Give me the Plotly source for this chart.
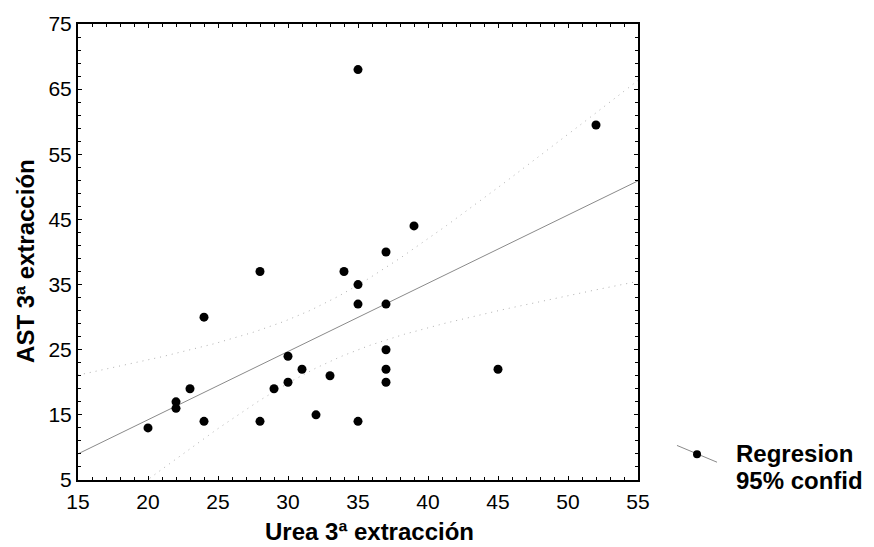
import numpy as np
import plotly.graph_objects as go

# Urea vs AST, third extraction
urea = [20, 22, 22, 23, 24, 24, 28, 28, 29, 30, 30, 31, 33, 32, 35, 34, 35, 35,
        37, 37, 37, 37, 45, 35, 52, 39, 37]
ast = [13, 17, 16, 19, 30, 14, 37, 14, 19, 24, 20, 22, 21, 15, 14, 37, 35, 32,
       32, 25, 22, 20, 22, 68, 59.5, 44, 40]

x_ticks = [15, 20, 25, 30, 35, 40, 45, 50, 55]
y_ticks = [5, 15, 25, 35, 45, 55, 65, 75]

x = np.asarray(urea, dtype=float)
y = np.asarray(ast, dtype=float)
n = len(x)

# least-squares fit and 95% confidence band for the mean response
slope, intercept = np.polyfit(x, y, 1)
resid = y - (slope * x + intercept)
s = np.sqrt(np.sum(resid ** 2) / (n - 2))
sxx = np.sum((x - x.mean()) ** 2)
try:
    from scipy.stats import t as _t
    t975 = float(_t.ppf(0.975, n - 2))
except Exception:
    t975 = 2.0595  # Student t, 25 degrees of freedom

xf = np.linspace(x_ticks[0], x_ticks[-1], 200)
yf = slope * xf + intercept
half = t975 * s * np.sqrt(1.0 / n + (xf - x.mean()) ** 2 / sxx)

fig = go.Figure()
fig.add_trace(go.Scatter(x=xf, y=yf + half, mode="lines",
                         line=dict(color="#b0b0b0", width=1, dash="1px,5px"),
                         hoverinfo="skip"))
fig.add_trace(go.Scatter(x=xf, y=yf - half, mode="lines",
                         line=dict(color="#b0b0b0", width=1, dash="1px,5px"),
                         hoverinfo="skip"))
fig.add_trace(go.Scatter(x=xf, y=yf, mode="lines",
                         line=dict(color="#8a8a8a", width=1), hoverinfo="skip"))
fig.add_trace(go.Scatter(x=urea, y=ast, mode="markers",
                         marker=dict(color="black", size=9)))

axis_common = dict(
    showline=True, linecolor="black", linewidth=2, mirror="ticks",
    ticks="inside", ticklen=4, tickwidth=1, tickcolor="black",
    showgrid=False, zeroline=False,
    tickfont=dict(family="Liberation Sans, Arial, sans-serif", size=21, color="black"),
)

fig.update_xaxes(range=[x_ticks[0], x_ticks[-1]], tickvals=x_ticks,
                 minor=dict(dtick=1, ticks="inside", ticklen=3, tickcolor="black"),
                 ticklabelstandoff=2, **axis_common)
fig.update_yaxes(range=[y_ticks[0], y_ticks[-1]], tickvals=y_ticks,
                 minor=dict(tick0=5, dtick=2, ticks="inside", ticklen=3, tickcolor="black"),
                 ticklabelstandoff=0, **axis_common)

bold = dict(family="Liberation Sans, Arial, sans-serif", size=24, color="black")
legend_font = dict(family="Liberation Sans, Arial, sans-serif", size=24, color="black")

annotations = [
    dict(text="<b>Urea 3ª extracción</b>", x=0.52, y=-0.112, xref="paper", yref="paper",
         xanchor="center", yanchor="middle", showarrow=False, font=bold),
    dict(text="<b>AST 3ª extracción</b>", x=-0.095, y=0.48, xref="paper", yref="paper",
         xanchor="center", yanchor="middle", textangle=-90, showarrow=False, font=bold),
    dict(text="<b>Regresion</b>", x=1.172, y=0.058, xref="paper", yref="paper",
         xanchor="left", yanchor="middle", showarrow=False, font=legend_font),
    dict(text="<b>95% confid</b>", x=1.172, y=0.0, xref="paper", yref="paper",
         xanchor="left", yanchor="middle", showarrow=False, font=legend_font),
]

shapes = [
    dict(type="line", xref="paper", yref="paper", x0=1.0696, y0=0.0758, x1=1.1411, y1=0.039,
         line=dict(color="#8a8a8a", width=1)),
    dict(type="circle", xref="paper", yref="paper", xsizemode="pixel", ysizemode="pixel",
         xanchor=1.1054, yanchor=0.0563, x0=-4, x1=4, y0=-4, y1=4,
         fillcolor="black", line=dict(color="black", width=0)),
]

fig.update_layout(
    width=874, height=547,
    margin=dict(l=78, r=236, t=18, b=67),
    paper_bgcolor="white", plot_bgcolor="white",
    showlegend=False,
    annotations=annotations,
    shapes=shapes,
)

fig.write_html("out.html")
